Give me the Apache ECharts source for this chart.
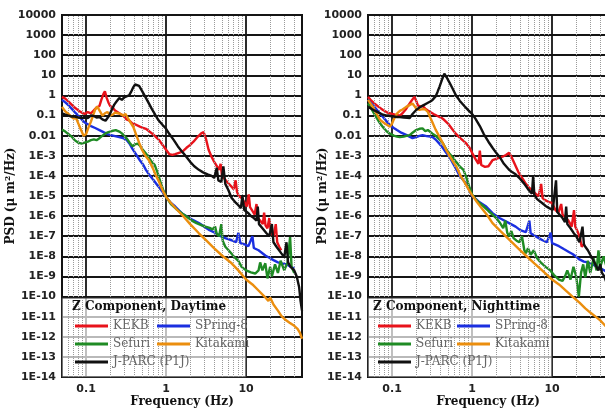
<!DOCTYPE html>
<html>
<head>
<meta charset="utf-8">
<script src="https://cdn.jsdelivr.net/npm/echarts@6/dist/echarts.min.js"></script>
<style>
  html, body { margin: 0; padding: 0; background: #fff; }
  #chart { width: 605px; height: 411px; }
</style>
</head>
<body>
<div id="chart"></div>
<script>
// Station names and colours (legend order)
const stationNames = ['KEKB', 'SPring-8', 'Sefuri', 'Kitakami', 'J-PARC (P1J)'];
const stationColors = ['#e8131b', '#1b2fe0', '#1f8b24', '#eb8e0e', '#111111'];

// Tick labels
const xTickValues = [0.1, 1, 10];
const xTickLabels = ['0.1', '1', '10'];
const yTickLabels = ['1E-14', '1E-13', '1E-12', '1E-11', '1E-10', '1E-9', '1E-8', '1E-7',
  '1E-6', '1E-5', '1E-4', '1E-3', '0.01', '0.1', '1', '10', '100', '1000', '10000'];

// ---- Daytime spectra: [frequency (Hz), PSD (um^2/Hz)] ----
const kekbDay = [
  [0.05,0.85],[0.055,0.7],[0.06,0.5],[0.066,0.35],[0.072,0.25],[0.08,0.18],[0.088,0.14],[0.096,0.12],
  [0.105,0.15],[0.115,0.13],[0.125,0.18],[0.135,0.25],[0.147,0.3],[0.155,0.6],[0.165,1.2],[0.172,1.6],
  [0.18,0.8],[0.19,0.45],[0.2,0.3],[0.215,0.25],[0.23,0.18],[0.26,0.13],[0.29,0.1],[0.32,0.065],
  [0.35,0.055],[0.38,0.04],[0.42,0.035],[0.47,0.028],[0.52,0.024],[0.56,0.022],[0.62,0.016],[0.7,0.011],
  [0.76,0.008],[0.82,0.006],[0.9,0.0035],[1.0,0.002],[1.1,0.0012],[1.2,0.0011],[1.3,0.0012],[1.45,0.0014],
  [1.6,0.0016],[1.8,0.0025],[2.0,0.0035],[2.2,0.005],[2.5,0.009],[2.75,0.013],[2.95,0.015],[3.15,0.007],
  [3.4,0.002],[3.7,9e-4],[4.0,5e-4],[4.2,4e-4],[4.6,2e-4],[4.8,4e-4],[5.0,1e-4],[5.4,7e-5],[5.8,5e-5],
  [6.3,3.5e-5],[6.6,3e-5],[7.0,2.2e-5],[7.4,6e-5],[7.7,1.6e-5],[8.1,1e-5],[8.8,8e-6],[9.5,5e-6],
  [10.2,3e-6],[10.8,1.2e-5],[11.2,2.8e-6],[12,1.8e-6],[12.8,1.2e-6],[13.5,4e-6],[14,8e-7],[15,6e-7],
  [16.2,4e-7],[16.8,1.5e-6],[17.5,3.5e-7],[18.5,2.5e-7],[19.5,8e-7],[20.5,1.5e-7],[22,1e-7],
  [23.5,4e-7],[24.5,5e-8],[26,3e-8],[27.5,2e-8]
];
const spring8Day = [
  [0.05,0.6],[0.055,0.45],[0.06,0.33],[0.066,0.22],[0.072,0.15],[0.08,0.1],[0.088,0.065],[0.096,0.045],
  [0.105,0.037],[0.115,0.03],[0.13,0.024],[0.147,0.019],[0.165,0.015],[0.185,0.012],[0.2,0.011],
  [0.23,0.0095],[0.26,0.0085],[0.29,0.0075],[0.32,0.0063],[0.35,0.004],[0.38,0.0022],[0.42,0.0012],
  [0.47,6e-4],[0.52,3.5e-4],[0.56,2e-4],[0.62,1.1e-4],[0.7,6e-5],[0.8,3e-5],[0.9,1.6e-5],[1.0,8.9e-6],
  [1.15,4.5e-6],[1.3,3e-6],[1.6,1.3e-6],[2.0,7.5e-7],[2.57,4.5e-7],[3.0,3e-7],[3.5,2e-7],[4.2,1.4e-7],
  [4.8,1e-7],[5.5,8e-8],[6.6,6.3e-8],[7.5,5e-8],[8,1.5e-7],[8.5,4.5e-8],[9.5,4e-8],[10.7,3.2e-8],
  [12,1e-7],[12.5,2.6e-8],[14.3,2e-8],[17.4,1.1e-8],[19,9e-9],[22,6.5e-9],[25,5e-9],[28,4.5e-9],
  [32,4e-9],[36,3e-9],[40,2.5e-9]
];
const sefuriDay = [
  [0.05,0.02],[0.055,0.016],[0.06,0.012],[0.066,0.009],[0.072,0.006],[0.08,0.0045],[0.088,0.004],
  [0.096,0.0045],[0.105,0.005],[0.115,0.006],[0.125,0.0065],[0.135,0.006],[0.147,0.0075],[0.16,0.01],
  [0.175,0.013],[0.19,0.015],[0.21,0.017],[0.235,0.019],[0.26,0.016],[0.28,0.013],[0.3,0.01],
  [0.32,0.0075],[0.35,0.0045],[0.38,0.003],[0.41,0.0037],[0.44,0.004],[0.47,0.0032],[0.5,0.0022],
  [0.55,0.0014],[0.6,9e-4],[0.66,5e-4],[0.72,3.5e-4],[0.78,1.5e-4],[0.85,5e-5],[0.92,2e-5],[1.0,9e-6],
  [1.15,4e-6],[1.35,2.2e-6],[1.6,1.3e-6],[1.85,9e-7],[2.1,6e-7],[2.4,4.5e-7],[2.8,3.5e-7],[3.1,3e-7],
  [3.5,2.6e-7],[3.8,2.2e-7],[4.1,3e-7],[4.3,1.3e-7],[4.6,1e-7],[4.9,4e-7],[5.1,6e-8],[5.5,3e-8],
  [6.2,1.8e-8],[7,1e-8],[8,6e-9],[8.8,3e-9],[10,2e-9],[11.5,1.6e-9],[13,1.4e-9],[14.3,2e-9],[15,5e-9],
  [16,2e-9],[17.4,4.5e-9],[18.5,8e-10],[20,3e-9],[21,1e-9],[23,4e-9],[25,1.5e-9],[27,6e-9],[30,2e-9],
  [33,5e-9],[35.5,9e-8],[37,3e-9],[40,1.5e-9]
];
const kitakamiDay = [
  [0.05,0.27],[0.055,0.16],[0.06,0.12],[0.065,0.09],[0.07,0.07],[0.075,0.075],[0.08,0.04],[0.087,0.018],
  [0.093,0.01],[0.1,0.012],[0.107,0.025],[0.115,0.05],[0.122,0.1],[0.13,0.2],[0.138,0.28],[0.147,0.18],
  [0.16,0.1],[0.172,0.13],[0.185,0.15],[0.2,0.1],[0.215,0.11],[0.23,0.14],[0.25,0.13],[0.27,0.12],
  [0.29,0.1],[0.31,0.12],[0.33,0.08],[0.36,0.045],[0.39,0.027],[0.42,0.012],[0.46,0.0045],[0.5,0.002],
  [0.55,0.001],[0.61,6e-4],[0.68,2.5e-4],[0.75,1e-4],[0.82,5e-5],[0.9,2e-5],[1.0,9e-6],[1.15,4.5e-6],
  [1.35,2.2e-6],[1.6,1.1e-6],[2.0,4e-7],[2.57,1.4e-7],[3.2,6e-8],[4,2.5e-8],[5,1.1e-8],[6.6,4.5e-9],
  [8,2e-9],[10,7e-10],[12,4e-10],[14.3,2e-10],[17,1e-10],[19,6e-11],[20,9e-11],[22,4e-11],[25,2e-11],
  [27.6,1.1e-11],[31,7e-12],[35,5e-12],[40,3.5e-12],[44,2.5e-12],[47,1.6e-12],[50,8e-13]
];
const jparcDay = [
  [0.05,0.13],[0.055,0.11],[0.06,0.1],[0.066,0.09],[0.072,0.09],[0.08,0.08],[0.088,0.075],[0.096,0.08],
  [0.105,0.075],[0.115,0.1],[0.125,0.095],[0.135,0.08],[0.147,0.085],[0.16,0.065],[0.175,0.055],
  [0.185,0.06],[0.195,0.1],[0.21,0.2],[0.225,0.35],[0.24,0.5],[0.26,0.75],[0.28,0.6],[0.3,0.8],
  [0.32,0.9],[0.345,1.0],[0.365,1.5],[0.39,2.6],[0.41,3.5],[0.43,4.3],[0.46,3.0],[0.5,1.7],[0.55,0.85],
  [0.6,0.45],[0.66,0.22],[0.73,0.11],[0.8,0.06],[0.9,0.035],[1.0,0.022],[1.1,0.012],[1.25,0.006],
  [1.4,0.003],[1.55,0.0018],[1.75,0.001],[2.0,5e-4],[2.25,3e-4],[2.57,2e-4],[2.9,1.5e-4],[3.3,1.2e-4],
  [3.7,1e-4],[4.0,8e-5],[4.3,2.5e-4],[4.5,6e-5],[4.9,5e-5],[5.2,3e-4],[5.5,4e-5],[6.0,2e-5],[6.6,8e-6],
  [7.3,5e-6],[8.0,3.5e-6],[8.6,2.5e-6],[9.0,1e-5],[9.5,2e-6],[10.7,1.4e-6],[11.5,1e-6],[12.5,8e-7],
  [13.5,6e-7],[14,3e-6],[14.5,4e-7],[16,2.5e-7],[18,1.4e-7],[19.5,1e-7],[21,4e-7],[22,5e-8],[24,3e-8],
  [27.6,1.4e-8],[30,9e-9],[32,5e-8],[33.5,5e-9],[36,3e-9],[40,2e-9],[43,1e-9],[46,3e-10],[48,6e-11],
  [50,2e-11]
];

// ---- Nighttime spectra ----
const kekbNight = [
  [0.05,0.85],[0.055,0.55],[0.06,0.4],[0.068,0.27],[0.077,0.19],[0.085,0.15],[0.093,0.13],[0.1,0.12],
  [0.11,0.11],[0.125,0.1],[0.135,0.13],[0.148,0.2],[0.158,0.3],[0.166,0.4],[0.178,0.6],[0.19,0.85],
  [0.2,0.55],[0.21,0.32],[0.225,0.28],[0.24,0.3],[0.26,0.22],[0.28,0.18],[0.3,0.15],[0.33,0.12],
  [0.36,0.1],[0.39,0.085],[0.42,0.075],[0.45,0.06],[0.5,0.04],[0.56,0.022],[0.62,0.013],[0.7,0.008],
  [0.78,0.0055],[0.85,0.004],[0.93,0.0025],[1.0,0.0014],[1.1,7e-4],[1.2,4e-4],[1.25,0.0018],[1.3,3.5e-4],
  [1.45,2.8e-4],[1.6,3e-4],[1.8,6e-4],[2.0,7e-4],[2.2,8e-4],[2.4,9e-4],[2.65,0.0011],[2.9,0.0014],
  [3.1,9e-4],[3.4,4e-4],[3.8,1.5e-4],[4.3,7e-5],[4.7,4e-5],[5.2,2.5e-5],[5.6,2e-5],[6.2,1.3e-5],
  [6.8,1e-5],[7.3,4e-5],[7.6,8e-6],[8.3,6e-6],[9.2,5e-6],[10,4.5e-6],[11,2e-6],[12,1.5e-6],[13,4e-6],
  [13.5,1.2e-6],[14.5,9e-7],[16,6e-7],[17.6,3e-7],[18.8,2e-6],[19.5,3e-7],[20.5,2e-7],[22,1e-7],
  [23.5,3e-8],[25,4e-8]
];
const spring8Night = [
  [0.05,0.6],[0.055,0.4],[0.06,0.27],[0.068,0.15],[0.077,0.085],[0.086,0.05],[0.095,0.032],[0.105,0.024],
  [0.115,0.019],[0.13,0.014],[0.15,0.011],[0.165,0.009],[0.18,0.0076],[0.2,0.0085],[0.22,0.0098],
  [0.24,0.0107],[0.27,0.0095],[0.3,0.009],[0.32,0.0085],[0.35,0.0065],[0.39,0.004],[0.43,0.0025],
  [0.47,0.0015],[0.52,9e-4],[0.58,4e-4],[0.64,2e-4],[0.7,1e-4],[0.78,6e-5],[0.85,4e-5],[0.92,2e-5],
  [1.0,1e-5],[1.12,7e-6],[1.23,5e-6],[1.5,3e-6],[1.8,1.4e-6],[2.2,8e-7],[2.9,4.5e-7],[3.5,3e-7],
  [4.0,2e-7],[4.7,1.6e-7],[5.2,6e-7],[5.4,1.4e-7],[6.5,9e-8],[7.6,6.3e-8],[8.6,5e-8],[9.6,1.5e-7],
  [10,4.5e-8],[12.2,3.2e-8],[14,2.3e-8],[16,1.7e-8],[18,1.3e-8],[19.7,1e-8],[22,7e-9],[25,5.5e-9],
  [28,5e-9],[32,4e-9],[36,3e-9],[40,2.5e-9],[45,2e-9],[50,1.5e-9]
];
const sefuriNight = [
  [0.05,0.4],[0.055,0.22],[0.06,0.12],[0.065,0.07],[0.071,0.04],[0.078,0.025],[0.086,0.016],
  [0.094,0.0126],[0.105,0.01],[0.115,0.009],[0.125,0.0085],[0.14,0.009],[0.155,0.01],[0.166,0.0107],
  [0.18,0.014],[0.2,0.019],[0.22,0.022],[0.24,0.023],[0.26,0.017],[0.28,0.019],[0.32,0.0126],[0.36,0.009],
  [0.4,0.006],[0.43,0.0043],[0.48,0.002],[0.52,0.0013],[0.57,8.7e-4],[0.63,5e-4],[0.7,3e-4],[0.78,2e-4],
  [0.85,8e-5],[0.92,3e-5],[1.0,1.2e-5],[1.1,7e-6],[1.2,5e-6],[1.4,3e-6],[1.6,1.8e-6],[1.8,1.2e-6],
  [2.0,8e-7],[2.2,5e-7],[2.45,2.5e-7],[2.6,6e-7],[2.75,1.5e-7],[2.9,1e-7],[3.1,1.8e-7],[3.3,8e-8],
  [3.6,6e-8],[3.9,5e-8],[4.2,1e-7],[4.5,2e-8],[4.7,1.4e-8],[5.0,2.5e-8],[5.4,1.2e-8],[5.9,2e-8],
  [6.5,8e-9],[7.2,5e-9],[8.3,3e-9],[9.5,2e-9],[10.5,1.2e-9],[12.2,7e-10],[13.5,6e-10],[14.5,1e-9],
  [15.5,2e-9],[17,7e-10],[18.5,3e-9],[20,1e-9],[21.6,1e-10],[23,1.5e-9],[24.5,4e-9],[26,9e-10],
  [28,6e-9],[30,1.5e-9],[33,8e-9],[36,2e-9],[38,2e-8],[40,3e-9],[44,1e-8],[48,3e-9]
];
const kitakamiNight = [
  [0.05,0.6],[0.055,0.35],[0.06,0.2],[0.065,0.11],[0.071,0.06],[0.078,0.045],[0.086,0.035],[0.094,0.028],
  [0.1,0.04],[0.105,0.065],[0.115,0.125],[0.125,0.17],[0.135,0.2],[0.15,0.27],[0.165,0.33],[0.18,0.4],
  [0.19,0.3],[0.2,0.22],[0.22,0.19],[0.24,0.21],[0.26,0.2],[0.28,0.15],[0.3,0.08],[0.32,0.045],
  [0.35,0.02],[0.39,0.009],[0.43,0.0043],[0.48,0.0018],[0.53,9e-4],[0.58,5e-4],[0.64,2.8e-4],
  [0.72,1e-4],[0.8,5e-5],[0.9,2.2e-5],[1.0,1.1e-5],[1.15,5e-6],[1.35,2.2e-6],[1.55,1.1e-6],[1.8,4.5e-7],
  [2.3,1.7e-7],[3,6e-8],[4,2e-8],[4.7,1.1e-8],[6,4.5e-9],[8,1.6e-9],[10,7e-10],[12.2,4e-10],[15,1.9e-10],
  [18,1e-10],[22,5e-11],[26,2.6e-11],[30,1.6e-11],[35,1e-11],[40,6.5e-12],[45,4e-12],[50,2.5e-12]
];
const jparcNight = [
  [0.05,0.27],[0.055,0.22],[0.06,0.18],[0.068,0.14],[0.077,0.11],[0.086,0.1],[0.095,0.095],[0.105,0.09],
  [0.115,0.085],[0.125,0.085],[0.14,0.08],[0.155,0.078],[0.166,0.075],[0.18,0.12],[0.2,0.19],[0.22,0.25],
  [0.245,0.32],[0.27,0.4],[0.3,0.5],[0.32,0.6],[0.35,0.9],[0.37,1.5],[0.39,2.6],[0.42,6],[0.45,12],
  [0.48,8],[0.52,4.5],[0.57,2.2],[0.63,1.0],[0.7,0.55],[0.8,0.3],[0.9,0.18],[1.0,0.12],[1.1,0.07],
  [1.25,0.03],[1.4,0.012],[1.6,0.005],[1.8,0.0025],[2.0,0.0014],[2.2,9e-4],[2.5,4e-4],[2.9,2e-4],
  [3.2,1.5e-4],[3.5,1.2e-4],[4.0,7e-5],[4.5,4e-5],[5.0,2.2e-5],[5.6,1.3e-5],[5.8,1e-4],[6.0,1.1e-5],
  [6.5,7e-6],[7.5,4.5e-6],[8.3,3.2e-6],[9.2,2.5e-6],[10.2,2e-6],[11.2,6e-5],[11.6,1.6e-6],[12.2,1.4e-6],
  [13.5,8e-7],[14.5,5e-7],[15,3e-6],[15.5,4e-7],[17,2.5e-7],[18.5,1.5e-7],[20,1e-7],[22,5e-8],[24,3e-7],
  [25,4e-8],[26,3e-8],[28,2e-8],[30,1.2e-8],[33,6e-9],[36,3e-9],[38,2e-9],[40,4e-9],[42,1.5e-9],
  [45,1e-9],[50,3e-10]
];

const daySets = [kekbDay, spring8Day, sefuriDay, kitakamiDay, jparcDay];
const nightSets = [kekbNight, spring8Night, sefuriNight, kitakamiNight, jparcNight];

// Log-decade minor grid positions (2..9 in each decade) inside the x range
const xMinor = [];
[0.01, 0.1, 1, 10].forEach(function (d) {
  for (let k = 2; k <= 9; k++) {
    const v = +(k * d).toPrecision(3);
    if (v > 0.05 && v < 50) xMinor.push(v);
  }
});

const tickFont = { fontFamily: 'DejaVu Sans', fontWeight: 'bold', fontSize: 11, color: '#222' };
const nameFont = { fontFamily: 'DejaVu Serif', fontWeight: 'bold', fontSize: 12, color: '#111' };
const majorLine = { show: true, lineStyle: { color: '#151515', width: 1.8 } };

function xLabel(v) {
  for (let i = 0; i < xTickValues.length; i++) {
    if (Math.abs(Math.log10(v) - Math.log10(xTickValues[i])) < 1e-6) return xTickLabels[i];
  }
  return '';
}
function yLabel(v) {
  const idx = Math.round(Math.log10(v)) + 14;
  return yTickLabels[idx] || '';
}

function makeX(gi) {
  return {
    type: 'log', logBase: 10, gridIndex: gi, min: 0.05, max: 50,
    axisLine: { show: false }, axisTick: { show: false },
    splitLine: majorLine,
    axisLabel: Object.assign({ showMinLabel: false, showMaxLabel: false, margin: 7, formatter: xLabel }, tickFont),
    name: 'Frequency (Hz)', nameLocation: 'middle', nameGap: 19, nameMoveOverlap: false, nameTextStyle: nameFont
  };
}
function makeY(gi, gap) {
  return {
    type: 'log', logBase: 10, gridIndex: gi, min: 1e-14, max: 1e4, interval: 1,
    axisLine: { show: false }, axisTick: { show: false },
    splitLine: majorLine,
    axisLabel: Object.assign({ margin: 6, formatter: yLabel }, tickFont),
    name: 'PSD (\u03bc m\u00b2/Hz)', nameLocation: 'middle', nameGap: gap, nameMoveOverlap: false,
    nameTextStyle: nameFont
  };
}

const series = [];
function addPanel(gi, sets) {
  series.push({
    type: 'line', xAxisIndex: gi, yAxisIndex: gi, data: [], silent: true, z: 1,
    markLine: {
      silent: true, symbol: 'none', animation: false, label: { show: false },
      lineStyle: { color: '#9a9a9a', type: 'dotted', width: 1 },
      data: xMinor.map(function (v) { return { xAxis: v }; })
    }
  });
  sets.forEach(function (d, i) {
    series.push({
      name: stationNames[i], type: 'line', xAxisIndex: gi, yAxisIndex: gi,
      data: d, symbol: 'none', showSymbol: false, animation: false, z: 2 + i,
      lineStyle: { color: stationColors[i], width: 2.4 },
      itemStyle: { color: stationColors[i] }
    });
  });
}
addPanel(0, daySets);
addPanel(1, nightSets);

const legendCommon = {
  orient: 'vertical', top: 319, padding: 0, itemWidth: 33, itemHeight: 3, itemGap: 4,
  icon: 'rect', selectedMode: false, z: 6,
  textStyle: { fontFamily: 'DejaVu Serif', fontSize: 12, color: '#666', lineHeight: 14 }
};
const col1 = [stationNames[0], stationNames[2], stationNames[4]];
const col2 = [stationNames[1], stationNames[3]];

const gridCommon = {
  top: 15, bottom: 34, show: true, borderColor: '#111', borderWidth: 2,
  backgroundColor: 'transparent', containLabel: false, outerBoundsMode: 'none'
};

const option = {
  backgroundColor: '#fff',
  animation: false,
  grid: [
    Object.assign({ left: 62, right: 303 }, gridCommon),
    Object.assign({ left: 368, right: -3 }, gridCommon)
  ],
  xAxis: [makeX(0), makeX(1)],
  yAxis: [makeY(0, 45), makeY(1, 39)],
  title: [
    { text: 'Z Component, Daytime', left: 72, top: 301, padding: 0, textStyle: nameFont },
    { text: 'Z Component, Nighttime', left: 373, top: 301, padding: 0, textStyle: nameFont }
  ],
  legend: [
    Object.assign({ data: col1, left: 75 }, legendCommon),
    Object.assign({ data: col2, left: 157 }, legendCommon),
    Object.assign({ data: col1, left: 378 }, legendCommon),
    Object.assign({ data: col2, left: 457 }, legendCommon)
  ],
  graphic: [
    { type: 'rect', z: 4, silent: true, shape: { x: 62, y: 298, width: 184, height: 79 },
      style: { fill: 'rgba(255,255,255,0.7)', stroke: '#333', lineWidth: 1 } },
    { type: 'rect', z: 4, silent: true, shape: { x: 368, y: 298, width: 184, height: 79 },
      style: { fill: 'rgba(255,255,255,0.7)', stroke: '#333', lineWidth: 1 } }
  ],
  series: series
};

const chart = echarts.init(document.getElementById('chart'), null, { renderer: 'canvas' });
chart.setOption(option);
</script>
</body>
</html>
